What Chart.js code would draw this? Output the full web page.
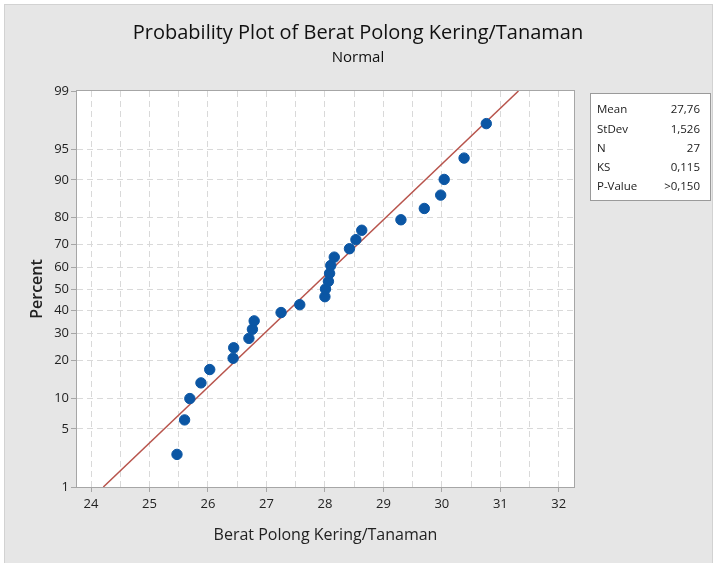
<!DOCTYPE html>
<html lang="id">
<head>
<meta charset="UTF-8">
<title>Probability Plot of Berat Polong Kering/Tanaman</title>
<script src="https://cdn.jsdelivr.net/npm/chart.js@4"></script>
<style>
  html, body { margin: 0; padding: 0; background: #fff; }
  #wrap { width: 716px; height: 563px; }
</style>
</head>
<body>
<div id="wrap"><canvas id="probChart"></canvas></div>
<script>
const beratValues = [25.47, 25.60, 25.69, 25.88, 26.03, 26.43, 26.44, 26.70, 26.76, 26.79,
                     27.25, 27.57, 28.00, 28.01, 28.06, 28.08, 28.10, 28.16, 28.42, 28.53,
                     28.63, 29.30, 29.70, 29.98, 30.04, 30.38, 30.76];
const percentValues = [2.6, 6.2, 9.9, 13.5, 17.2, 20.8, 24.5, 28.1, 31.8, 35.4,
                       39.1, 42.7, 46.4, 50.0, 53.6, 57.3, 60.9, 64.6, 68.2, 71.9,
                       75.5, 79.2, 82.8, 86.5, 90.1, 93.8, 97.4];
const percentTicks = [1, 5, 10, 20, 30, 40, 50, 60, 70, 80, 90, 95, 99];
const xTickLabels = [24, 25, 26, 27, 28, 29, 30, 31, 32];
const statLabels = ['Mean', 'StDev', 'N', 'KS', 'P-Value'];
const statValues = ['27,76', '1,526', '27', '0,115', '>0,150'];
const fitMean = 27.76;
const fitStDev = 1.526;

// inverse of the standard normal CDF (Acklam)
function normInv(p) {
  const a = [-39.6968302866538, 220.946098424521, -275.928510446969, 138.357751867269, -30.6647980661472, 2.50662827745924];
  const b = [-54.4760987982241, 161.585836858041, -155.698979859887, 66.8013118877197, -13.2806815528857];
  const c = [-0.00778489400243029, -0.322396458041136, -2.40075827716184, -2.54973253934373, 4.37466414146497, 2.93816398269878];
  const d = [0.00778469570904146, 0.32246712907004, 2.445134137143, 3.75440866190742];
  const pl = 0.02425;
  let q, r;
  if (p < pl) {
    q = Math.sqrt(-2 * Math.log(p));
    return (((((c[0]*q+c[1])*q+c[2])*q+c[3])*q+c[4])*q+c[5]) / ((((d[0]*q+d[1])*q+d[2])*q+d[3])*q+1);
  }
  if (p > 1 - pl) {
    q = Math.sqrt(-2 * Math.log(1 - p));
    return -(((((c[0]*q+c[1])*q+c[2])*q+c[3])*q+c[4])*q+c[5]) / ((((d[0]*q+d[1])*q+d[2])*q+d[3])*q+1);
  }
  q = p - 0.5; r = q * q;
  return (((((a[0]*r+a[1])*r+a[2])*r+a[3])*r+a[4])*r+a[5])*q / (((((b[0]*r+b[1])*r+b[2])*r+b[3])*r+b[4])*r+1);
}

const zMin = normInv(0.01);
const zMax = normInv(0.99);
const points = beratValues.map((v, i) => ({ x: v, y: normInv(percentValues[i] / 100) }));
const fitLine = [
  { x: fitMean + fitStDev * zMin, y: zMin },
  { x: fitMean + fitStDev * zMax, y: zMax }
];

const FONT = "'Open Sans', 'Noto Sans', sans-serif";
const GRID = '#d9d9d9';

const framePlugin = {
  id: 'frame',
  beforeDraw(chart) {
    const ctx = chart.ctx, a = chart.chartArea;
    ctx.save();
    ctx.fillStyle = '#ffffff';
    ctx.fillRect(0, 0, chart.width, chart.height);
    ctx.fillStyle = '#e6e6e6';
    ctx.fillRect(4, 4, chart.width - 7, chart.height - 4);
    ctx.strokeStyle = '#d2d2d2';
    ctx.strokeRect(4.5, 4.5, chart.width - 8, chart.height - 4);
    ctx.fillStyle = '#ffffff';
    ctx.fillRect(a.left, a.top, a.right - a.left, a.bottom - a.top);
    ctx.restore();
  },
  afterDraw(chart) {
    const ctx = chart.ctx, a = chart.chartArea;
    ctx.save();
    ctx.strokeStyle = '#a6a6a6';
    ctx.lineWidth = 1;
    ctx.strokeRect(Math.round(a.left) - 0.5, Math.round(a.top) - 0.5, a.right - a.left + 1, a.bottom - a.top + 1);
    // statistics box
    const bx = 590, by = 93, bw = 120, bh = 107;
    ctx.fillStyle = '#ffffff';
    ctx.fillRect(bx, by, bw, bh);
    ctx.strokeStyle = '#9a9a9a';
    ctx.strokeRect(bx + 0.5, by + 0.5, bw, bh);
    ctx.font = '11.5px ' + FONT;
    ctx.fillStyle = '#1a1a1a';
    ctx.textBaseline = 'middle';
    statLabels.forEach((lab, i) => {
      const y = by + 17 + i * 19.3;
      ctx.textAlign = 'left';
      ctx.fillText(lab, bx + 7, y);
      ctx.textAlign = 'right';
      ctx.fillText(statValues[i], bx + bw - 10, y);
    });
    ctx.restore();
  }
};

new Chart(document.getElementById('probChart'), {
  type: 'scatter',
  data: {
    datasets: [
      {
        label: 'Berat Polong Kering/Tanaman',
        data: points,
        backgroundColor: '#0b56a4',
        borderColor: '#0b56a4',
        pointRadius: 5.2,
        pointHoverRadius: 5.2
      },
      {
        label: 'Fit',
        data: fitLine,
        showLine: true,
        borderColor: '#b8544c',
        borderWidth: 1.5,
        pointRadius: 0,
        fill: false
      }
    ]
  },
  options: {
    responsive: true,
    maintainAspectRatio: false,
    animation: false,
    layout: { padding: { top: 4, left: 4, right: 4, bottom: 4 } },
    plugins: {
      legend: { display: false },
      tooltip: { enabled: false },
      title: {
        display: true,
        text: 'Probability Plot of Berat Polong Kering/Tanaman',
        color: '#111',
        font: { family: FONT, size: 20, weight: '500' },
        padding: { top: 17, bottom: 2 }
      },
      subtitle: {
        display: true,
        text: 'Normal',
        color: '#111',
        font: { family: FONT, size: 15, weight: '500' },
        padding: { top: 2, bottom: 24 }
      }
    },
    scales: {
      x: {
        type: 'linear',
        min: 23.76,
        max: 32.26,
        afterFit(s) { s.height = 72; },
        afterBuildTicks(s) {
          const t = [];
          for (let v = xTickLabels[0]; v <= xTickLabels[xTickLabels.length - 1]; v += 0.5) t.push({ value: v });
          s.ticks = t;
        },
        border: { display: false, dash: [6, 4] },
        grid: {
          color: GRID,
          tickColor: ctx => Number.isInteger(ctx.tick && ctx.tick.value) ? '#a6a6a6' : 'rgba(0,0,0,0)',
          tickBorderDash: [],
          tickLength: 5
        },
        ticks: {
          autoSkip: false,
          maxRotation: 0,
          padding: 4,
          color: '#222',
          font: { family: FONT, size: 13 },
          callback: v => xTickLabels.includes(v) ? String(v) : ''
        },
        title: {
          display: true,
          text: 'Berat Polong Kering/Tanaman',
          color: '#222',
          font: { family: FONT, size: 16, weight: '500' },
          padding: { top: 4, bottom: 14 }
        }
      },
      y: {
        type: 'linear',
        min: zMin,
        max: zMax,
        afterFit(s) { s.width = 73; },
        afterBuildTicks(s) {
          s.ticks = percentTicks.map(p => ({ value: normInv(p / 100), label: p }));
        },
        border: { display: false, dash: [6, 4] },
        grid: {
          color: ctx => (ctx.index === 0 || ctx.index === percentTicks.length - 1) ? 'rgba(0,0,0,0)' : GRID,
          tickColor: '#a6a6a6',
          tickBorderDash: [],
          tickLength: 6
        },
        ticks: {
          autoSkip: false,
          padding: 2,
          color: '#222',
          font: { family: FONT, size: 13 },
          callback: (v, i) => String(percentTicks[i])
        },
        title: {
          display: true,
          text: 'Percent',
          color: '#222',
          font: { family: FONT, size: 16, weight: '600' },
          padding: { top: 24, bottom: 0 }
        }
      },
      // empty right-hand axis that reserves room for the statistics box
      yRight: {
        type: 'linear',
        position: 'right',
        min: zMin,
        max: zMax,
        afterFit(s) { s.width = 138; },
        border: { display: false },
        grid: { display: false },
        ticks: { display: false }
      }
    }
  },
  plugins: [framePlugin]
});
</script>
</body>
</html>
